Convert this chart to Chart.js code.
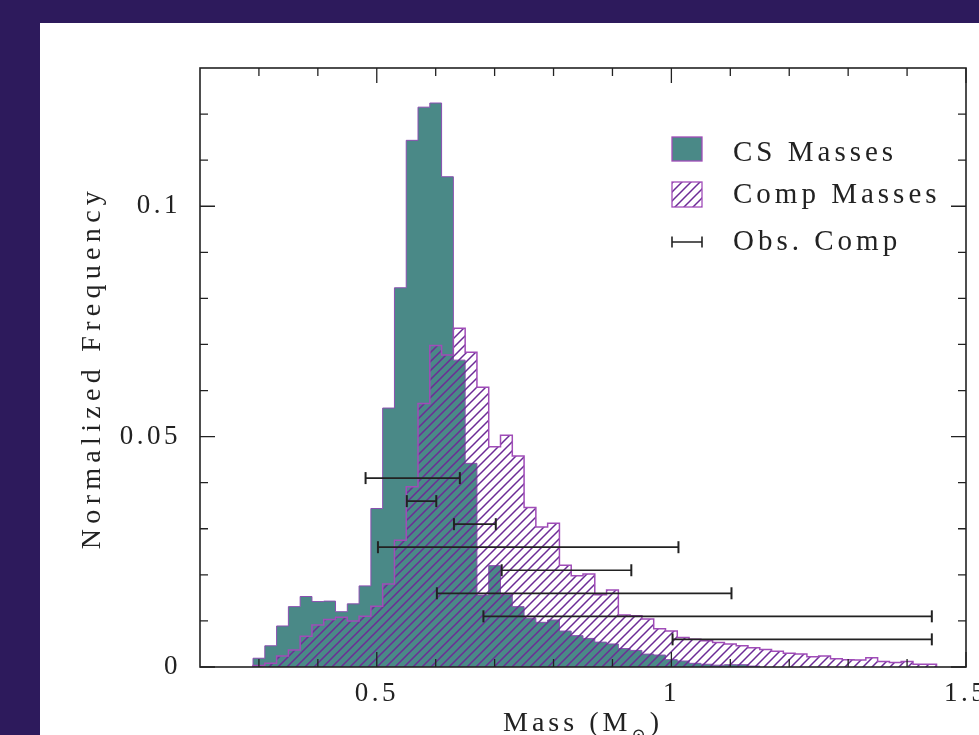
<!DOCTYPE html>
<html><head><meta charset="utf-8">
<script src="https://cdn.jsdelivr.net/npm/chart.js@4.4.1/dist/chart.umd.min.js"></script>
<style>
html,body{margin:0;padding:0;width:979px;height:735px;overflow:hidden;background:#2d1a5c;}
#panel{position:absolute;left:40px;top:23px;width:980px;height:760px;background:#fff;}
canvas{display:block;}
</style></head><body>
<div id="panel"><canvas id="c" width="980" height="760"></canvas></div>
<script>
// ---- data ----
const binWidth = 0.02;
const binLeft = [0.29,0.31,0.33,0.35,0.37,0.39,0.41,0.43,0.45,0.47,0.49,0.51,0.53,0.55,0.57,0.59,0.61,0.63,0.65,0.67,
  0.69,0.71,0.73,0.75,0.77,0.79,0.81,0.83,0.85,0.87,0.89,0.91,0.93,0.95,0.97,0.99,1.01,1.03,1.05,1.07,
  1.09,1.11,1.13,1.15,1.17,1.19,1.21,1.23,1.25,1.27,1.29,1.31,1.33,1.35,1.37,1.39,1.41,1.43];
const csFreq = [0.0019,0.0046,0.0089,0.0131,0.0153,0.0142,0.0143,0.0120,0.0137,0.0176,
  0.0344,0.0562,0.0823,0.1143,0.1215,0.1224,0.1064,0.0666,0.0442,0.0156,
  0.0220,0.0157,0.0131,0.0106,0.0097,0.0102,0.0078,0.0068,0.0062,0.0054,
  0.0050,0.0040,0.0036,0.0028,0.0026,0.0016,0.0013,0.0008,0.0006,0.0004,
  0.0005,0.0005,0.0002];
const compFreq = [0.0003,0.0008,0.0024,0.0037,0.0067,0.0091,0.0103,0.0108,0.0100,0.0110,
  0.0132,0.0180,0.0275,0.0391,0.0572,0.0698,0.0677,0.0735,0.0683,0.0607,
  0.0478,0.0503,0.0458,0.0346,0.0304,0.0312,0.0221,0.0198,0.0202,0.0157,
  0.0167,0.0113,0.0111,0.0104,0.0083,0.0078,0.0064,0.0060,0.0057,0.0053,
  0.0050,0.0046,0.0042,0.0038,0.0034,0.0030,0.0028,0.0022,0.0024,0.0018,
  0.0016,0.0015,0.0020,0.0012,0.0010,0.0012,0.0006,0.0006];
const obsLo = [0.481,0.551,0.631,0.502,0.712,0.602,0.681,1.002];
const obsHi = [0.641,0.601,0.702,1.012,0.932,1.102,1.442,1.442];
const obsY  = [0.041,0.036,0.031,0.026,0.021,0.016,0.011,0.006];
const xTicks = [0.5,1,1.5];
const xTickLabels = ['0.5','1','1.5'];
const yTicks = [0,0.05,0.1];
const yTickLabels = ['0','0.05','0.1'];
const xMinorTicks = [0.3,0.4,0.6,0.7,0.8,0.9,1.1,1.2,1.3,1.4];
const yMinorTicks = [0.01,0.02,0.03,0.04,0.06,0.07,0.08,0.09,0.11,0.12];
const seriesNames = ['CS Masses','Comp Masses','Obs. Comp'];

// ---- styles ----
const TEAL = '#4a8987', PURPLE = '#a04cb8', HATCH = '#6c2c96', INK = '#222';
const FONT = "'Liberation Serif', 'DejaVu Serif', serif";

function histPoints(freq){
  const pts = [{x: binLeft[0], y: 0}];
  for (let i = 0; i < freq.length; i++) pts.push({x: binLeft[i], y: freq[i]});
  pts.push({x: binLeft[freq.length-1] + binWidth, y: 0});
  return pts;
}
const obsPoints = [];
for (let i = 0; i < obsY.length; i++){
  obsPoints.push({x: obsLo[i], y: obsY[i]}, {x: obsHi[i], y: obsY[i]}, {x: obsHi[i], y: null});
}

const cv = document.getElementById('c');
const ctx0 = cv.getContext('2d');
function hatch(color){
  const s = 9, c = document.createElement('canvas');
  c.width = s; c.height = s;
  const g = c.getContext('2d');
  g.strokeStyle = color; g.lineWidth = 1.5;
  g.beginPath();
  g.moveTo(0, s); g.lineTo(s, 0);
  g.moveTo(-1, 1); g.lineTo(1, -1);
  g.moveTo(s-1, s+1); g.lineTo(s+1, s-1);
  g.stroke();
  return ctx0.createPattern(c, 'repeat');
}
const hatchPat = hatch(HATCH);

const framePlugin = {
  id: 'frame',
  beforeDraw(chart){ chart.ctx.letterSpacing = '3.5px'; },
  afterDatasetsDraw(chart){
    const {ctx, chartArea: a, scales: {x, y}} = chart;
    ctx.save();
    ctx.strokeStyle = INK; ctx.lineWidth = 1.6;
    ctx.strokeRect(a.left, a.top, a.right - a.left, a.bottom - a.top);
    ctx.lineWidth = 1.3;
    ctx.beginPath();
    const xt = (v, L) => { const p = x.getPixelForValue(v); ctx.moveTo(p, a.bottom); ctx.lineTo(p, a.bottom - L); ctx.moveTo(p, a.top); ctx.lineTo(p, a.top + L); };
    const yt = (v, L) => { const p = y.getPixelForValue(v); ctx.moveTo(a.left, p); ctx.lineTo(a.left + L, p); ctx.moveTo(a.right, p); ctx.lineTo(a.right - L, p); };
    xMinorTicks.forEach(v => xt(v, 8));
    xTicks.forEach(v => xt(v, 15));
    yMinorTicks.forEach(v => yt(v, 8));
    yTicks.forEach(v => yt(v, 15));
    ctx.stroke();
    ctx.restore();
  },
  afterDraw(chart){
    const {ctx, chartArea: a} = chart;
    ctx.save();
    ctx.fillStyle = INK;
    // y title
    ctx.font = '28px ' + FONT;
    ctx.letterSpacing = '5.3px';
    ctx.textAlign = 'center'; ctx.textBaseline = 'alphabetic';
    ctx.save();
    ctx.translate(60, (a.top + a.bottom) / 2);
    ctx.rotate(-Math.PI / 2);
    ctx.fillText('Normalized Frequency', 0, 0);
    ctx.restore();
    // x title with subscript
    ctx.letterSpacing = '4px';
    ctx.textAlign = 'left';
    const p1 = 'Mass (M', p2 = '\u2299', p3 = ')';
    ctx.font = '28px ' + FONT;
    const w1 = ctx.measureText(p1).width, w3 = ctx.measureText(p3).width;
    ctx.font = '17px ' + FONT;
    const w2 = ctx.measureText(p2).width;
    const total = w1 + w2 + w3;
    let xx = (a.left + a.right) / 2 - total / 2;
    const base = 708;
    ctx.font = '28px ' + FONT; ctx.fillText(p1, xx, base); xx += w1;
    ctx.font = '17px ' + FONT; ctx.fillText(p2, xx, base + 9); xx += w2;
    ctx.font = '28px ' + FONT; ctx.fillText(p3, xx, base);
    // legend
    const lx = 632, lw = 30, tx = 693;
    ctx.fillStyle = TEAL; ctx.fillRect(lx, 114, lw, 24);
    ctx.strokeStyle = PURPLE; ctx.lineWidth = 1.3; ctx.strokeRect(lx, 114, lw, 24);
    ctx.fillStyle = hatchPat; ctx.fillRect(lx, 159, lw, 25);
    ctx.strokeRect(lx, 159, lw, 25);
    ctx.strokeStyle = INK; ctx.lineWidth = 1.6;
    ctx.beginPath();
    ctx.moveTo(lx, 219); ctx.lineTo(lx + lw, 219);
    ctx.moveTo(lx, 213.5); ctx.lineTo(lx, 224.5);
    ctx.moveTo(lx + lw, 213.5); ctx.lineTo(lx + lw, 224.5);
    ctx.stroke();
    ctx.fillStyle = INK;
    ctx.font = '29px ' + FONT;
    ctx.letterSpacing = '4px';
    ctx.textBaseline = 'alphabetic';
    ctx.fillText(seriesNames[0], tx, 138);
    ctx.fillText(seriesNames[1], tx, 180);
    ctx.fillText(seriesNames[2], tx, 227);
    ctx.restore();
  }
};

new Chart(cv, {
  type: 'line',
  data: {
    datasets: [
      { label: seriesNames[2], data: obsPoints, order: 0, borderColor: INK, borderWidth: 1.7,
        pointStyle: 'line', rotation: 90, pointRadius: 6, pointBorderWidth: 2, pointBorderColor: INK,
        spanGaps: false, fill: false },
      { label: seriesNames[1], data: histPoints(compFreq), order: 1, stepped: true, fill: 'origin',
        backgroundColor: hatchPat, borderColor: PURPLE, borderWidth: 1.5, pointRadius: 0 },
      { label: seriesNames[0], data: histPoints(csFreq), order: 2, stepped: true, fill: 'origin',
        backgroundColor: TEAL, borderColor: '#8a4fb0', borderWidth: 1, pointRadius: 0 }
    ]
  },
  options: {
    responsive: false, animation: false, devicePixelRatio: 1,
    layout: { padding: { left: 0, top: 45, right: 54, bottom: 56 } },
    plugins: { legend: { display: false }, tooltip: { enabled: false } },
    scales: {
      x: { type: 'linear', min: 0.2, max: 1.5,
        grid: { display: false, drawTicks: false }, border: { display: false },
        afterBuildTicks: s => { s.ticks = xTicks.map(v => ({value: v})); },
        afterFit: s => { s.height = 60; },
        ticks: { autoSkip: false, maxRotation: 0, padding: 11, color: INK,
          font: { family: FONT, size: 27 },
          callback: (v) => xTickLabels[xTicks.indexOf(v)] } },
      y: { type: 'linear', min: 0, max: 0.13,
        grid: { display: false, drawTicks: false }, border: { display: false },
        afterBuildTicks: s => { s.ticks = yTicks.map(v => ({value: v})); },
        afterFit: s => { s.width = 160; },
        ticks: { autoSkip: false, padding: 19, color: INK,
          font: { family: FONT, size: 27 },
          callback: (v) => yTickLabels[yTicks.indexOf(v)] } }
    }
  },
  plugins: [framePlugin]
});
</script>
</body></html>
